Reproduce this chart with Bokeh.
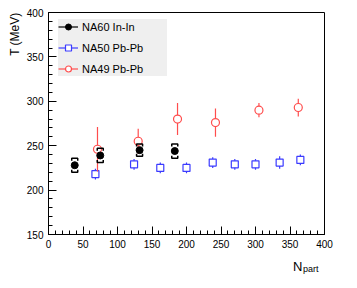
import numpy as np
from bokeh.plotting import figure
from bokeh.models import (Range1d, SingleIntervalTicker, Legend, LegendItem, Title)
from bokeh.embed import file_html
from bokeh.resources import INLINE

# ---------------- data ----------------
na60_x = [38, 75, 132, 183]
na60_y = [228, 239, 245, 244]
na60_stat = [3, 3, 3, 3]
na60_sys = [8, 8, 7, 8]

na50_x = [68, 124, 162, 200, 238, 270, 300, 335, 365]
na50_y = [218, 229, 225, 225, 231, 229, 229, 231, 234]
na50_err = [6, 6, 6, 6, 6, 6, 6, 7, 6]

na49_x = [71, 130, 187, 242, 305, 362]
na49_y = [246, 255, 280, 276, 290, 293]
na49_err = [25, 14, 18, 16, 8, 10]

series_names = ["NA60 In-In", "NA50 Pb-Pb", "NA49 Pb-Pb"]
x_label = "N"
x_label_sub = "part"
y_label = "T (MeV)"

FONT = "Liberation Sans"
RED = "#ff4d4d"
BLUE = "#3b3bff"

FW, FH = 276, 222
p = figure(frame_width=FW, frame_height=FH, output_backend="svg", toolbar_location=None,
           x_range=Range1d(0, 400), y_range=Range1d(150, 400),
           min_border_left=48, min_border_right=16, min_border_top=12,
           min_border_bottom=37)
p.grid.visible = False
p.outline_line_color = "black"
p.outline_line_width = 1
p.background_fill_color = "white"
p.border_fill_color = "white"

for ax, iv in ((p.xaxis[0], 50), (p.yaxis[0], 50)):
    ax.ticker = SingleIntervalTicker(interval=iv, num_minor_ticks=5)
    ax.major_tick_out = 0
    ax.major_tick_in = 8
    ax.minor_tick_out = 0
    ax.minor_tick_in = 4
    ax.axis_line_color = "black"
    ax.major_tick_line_color = "black"
    ax.minor_tick_line_color = "black"
    ax.major_label_text_font = FONT
    ax.major_label_text_font_size = "10px"
    ax.major_label_text_color = "black"
    ax.major_label_standoff = 5

dx_per_px = 400.0 / FW
dy_per_px = 250.0 / FH

# ---- NA50 (blue squares) ----
x50 = np.array(na50_x, float); y50 = np.array(na50_y, float); e50 = np.array(na50_err, float)
s50 = p.segment(x0=x50, y0=y50 - e50, x1=x50, y1=y50 + e50, line_color=BLUE, line_width=1.2)
r50m = p.scatter(x=x50, y=y50, marker="square", size=7, line_color=BLUE,
                 fill_color="white", line_width=1.2)

# ---- NA49 (red circles) ----
x49 = np.array(na49_x, float); y49 = np.array(na49_y, float); e49 = np.array(na49_err, float)
s49 = p.segment(x0=x49, y0=y49 - e49, x1=x49, y1=y49 + e49, line_color=RED, line_width=1.2)
r49m = p.scatter(x=x49, y=y49, marker="circle", size=8, line_color=RED,
                 fill_color="white", line_width=1.2)

# ---- NA60 (black filled) ----
x60 = np.array(na60_x, float); y60 = np.array(na60_y, float)
st60 = np.array(na60_stat, float); sy60 = np.array(na60_sys, float)
s60 = p.segment(x0=x60, y0=y60 - st60, x1=x60, y1=y60 + st60, line_color="black", line_width=1.2)
bw = 3.0 * dx_per_px
bt = 2.5 * dy_per_px
xs, ys = [], []
for xi, yi, si in zip(x60, y60, sy60):
    xs.append([xi - bw, xi - bw, xi + bw, xi + bw])
    ys.append([yi + si - bt, yi + si, yi + si, yi + si - bt])
    xs.append([xi - bw, xi - bw, xi + bw, xi + bw])
    ys.append([yi - si + bt, yi - si, yi - si, yi - si + bt])
p.multi_line(xs=xs, ys=ys, line_color="black", line_width=1.5)
r60m = p.scatter(x=x60, y=y60, marker="circle", size=7, line_color="black",
                 fill_color="black")

# ---- legend (line + marker) ----
legend = Legend(items=[
    LegendItem(label=series_names[0], renderers=[s60, r60m]),
    LegendItem(label=series_names[1], renderers=[s50, r50m]),
    LegendItem(label=series_names[2], renderers=[s49, r49m]),
], location=(10, 158))
legend.background_fill_color = "#efefef"
legend.background_fill_alpha = 1.0
legend.border_line_color = None
legend.label_text_font = FONT
legend.label_text_font_size = "11px"
legend.label_text_color = "black"
legend.glyph_width = 20
legend.glyph_height = 15
legend.spacing = 6
legend.padding = 3
legend.margin = 0
legend.label_standoff = 4
legend.label_width = 85
p.add_layout(legend, "center")

# ---- axis titles ----
ty = Title(text=y_label, align="right", vertical_align="top", text_font=FONT,
           text_font_size="12px", text_font_style="normal", text_color="black",
           standoff=0, offset=0)
p.add_layout(ty, "left")
tN = Title(text=x_label, align="right", vertical_align="bottom", text_font=FONT,
           text_font_size="13px", text_font_style="normal", text_color="black",
           standoff=13, offset=22)
tP = Title(text=x_label_sub, align="right", vertical_align="top", text_font=FONT,
           text_font_size="9px", text_font_style="normal", text_color="black",
           standoff=-34, offset=6)
p.add_layout(tN, "below")
p.add_layout(tP, "below")

open("out.html", "w").write(file_html(p, INLINE))
